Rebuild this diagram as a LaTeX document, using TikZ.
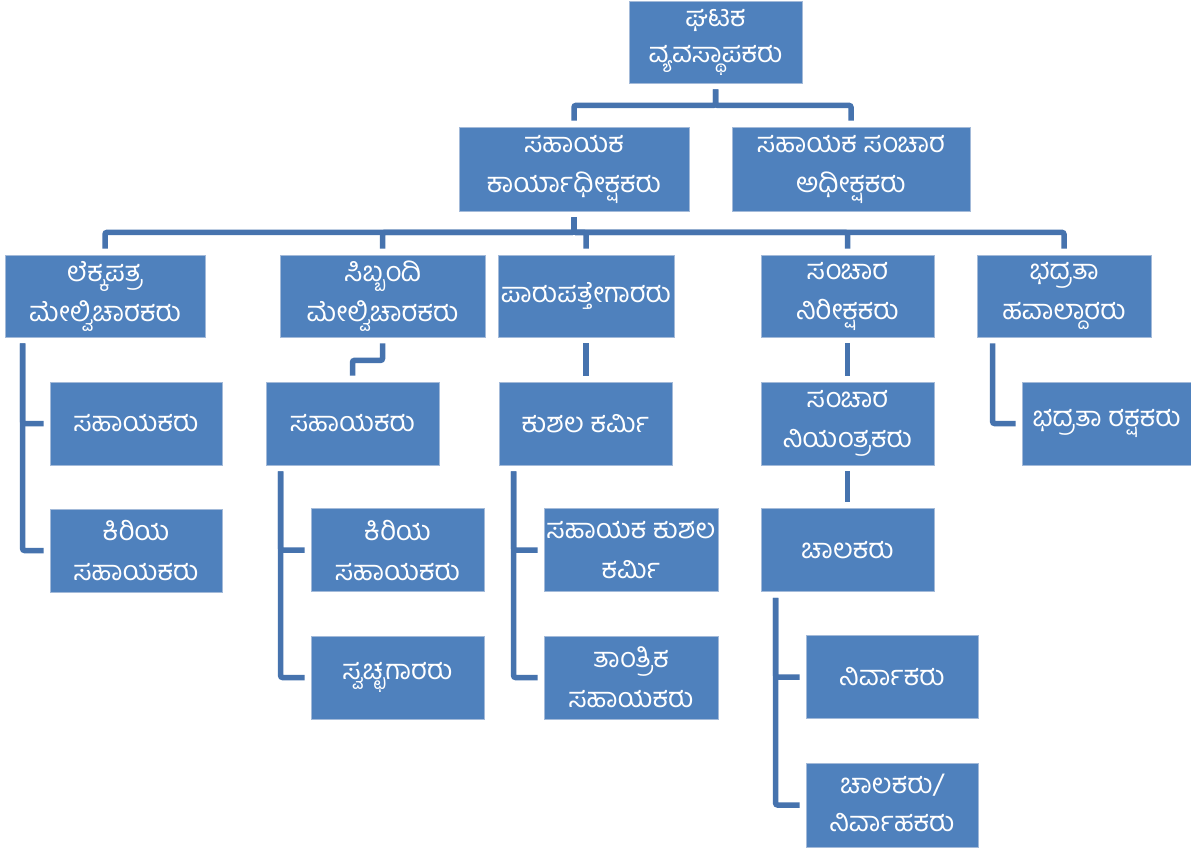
\documentclass[tikz,border=0pt]{standalone}
\usepackage{fontspec}
\newfontfamily\kn[Script=Kannada]{Hind Mysuru}
\definecolor{boxfill}{HTML}{4F81BD}
\definecolor{boxedge}{HTML}{A3BAD9}
\definecolor{linecol}{HTML}{4673AE}
\tikzset{
  unit/.style={draw=boxedge, line width=0.8pt, fill=boxfill, text=white,
    font=\kn\fontsize{27.5}{40}\selectfont, align=center, inner sep=0pt,
    minimum height=83pt},
  conn/.style={draw=linecol, line width=5.5pt, shorten <=6pt, shorten >=6pt,
    rounded corners=2pt}
}
\begin{document}
\begin{tikzpicture}[x=1pt,y=-1pt]
\useasboundingbox[fill=white] (0,0) rectangle (1191,849);
% level 1
\node[unit, minimum width=173pt, minimum height=82pt, font=\kn\fontsize{27.5}{36}\selectfont] (top) at (715.5,42) {ಘಟಕ\\ವ್ಯವಸ್ಥಾಪಕರು};
% level 2
\node[unit, minimum width=230pt, minimum height=84pt] (sak) at (574,169) {ಸಹಾಯಕ\\ಕಾರ್ಯಾಧೀಕ್ಷಕರು};
\node[unit, minimum width=238pt, minimum height=84pt] (ssa) at (851,169) {ಸಹಾಯಕ ಸಂಚಾರ\\ಅಧೀಕ್ಷಕರು};
% level 3
\node[unit, minimum width=200pt, minimum height=82pt] (lek) at (105,296) {ಲೆಕ್ಕಪತ್ರ\\ಮೇಲ್ವಿಚಾರಕರು};
\node[unit, minimum width=205pt, minimum height=82pt] (sib) at (382.5,296) {ಸಿಬ್ಬಂದಿ\\ಮೇಲ್ವಿಚಾರಕರು};
\node[unit, minimum width=176pt, minimum height=82pt] (par) at (586,296) {ಪಾರುಪತ್ತೇಗಾರರು};
\node[unit, minimum width=173pt, minimum height=82pt] (sni) at (847.5,296) {ಸಂಚಾರ\\ನಿರೀಕ್ಷಕರು};
\node[unit, minimum width=174pt, minimum height=82pt] (bha) at (1064,296) {ಭದ್ರತಾ\\ಹವಾಲ್ದಾರರು};
% level 4+
\node[unit, minimum width=172pt] (lek1) at (136,423.5) {ಸಹಾಯಕರು};
\node[unit, minimum width=172pt] (lek2) at (136,550.5) {ಕಿರಿಯ\\ಸಹಾಯಕರು};
\node[unit, minimum width=173pt] (sib1) at (352.5,423.5) {ಸಹಾಯಕರು};
\node[unit, minimum width=173pt] (sib2) at (397.5,550) {ಕಿರಿಯ\\ಸಹಾಯಕರು};
\node[unit, minimum width=173pt] (sib3) at (397.5,677.5) {ಸ್ವಚ್ಛಗಾರರು};
\node[unit, minimum width=173pt] (par1) at (585.5,423.5) {ಕುಶಲ ಕರ್ಮಿ};
\node[unit, minimum width=174pt] (par2) at (631,550) {ಸಹಾಯಕ ಕುಶಲ\\ಕರ್ಮಿ};
\node[unit, minimum width=174pt] (par3) at (631,677.5) {ತಾಂತ್ರಿಕ\\ಸಹಾಯಕರು};
\node[unit, minimum width=173pt] (sni1) at (847.5,423.5) {ಸಂಚಾರ\\ನಿಯಂತ್ರಕರು};
\node[unit, minimum width=173pt] (sni2) at (847.5,550) {ಚಾಲಕರು};
\node[unit, minimum width=172pt] (sni3) at (892,677) {ನಿರ್ವಾಕರು};
\node[unit, minimum width=172pt, minimum height=84pt, font=\kn\fontsize{27.5}{38}\selectfont] (sni4) at (892,805) {\raisebox{22pt}{\begin{tabular}{@{}c@{}}ಚಾಲಕರು/\\ನಿರ್ವಾಹಕರು\end{tabular}}};
\node[unit, minimum width=169pt] (bha1) at (1106.5,423.5) {ಭದ್ರತಾ ರಕ್ಷಕರು};
% connectors
\draw[conn] (top.south) -- ++(0,22) -| (sak.north);
\draw[conn] (top.south) -- ++(0,22) -| (ssa.north);
\foreach \t in {lek,sib,par,sni,bha}
  \draw[conn] (sak.south) -- ++(0,21) -| (\t.north);
\draw[conn] ([xshift=18pt]lek.south west) |- (lek1.west);
\draw[conn] ([xshift=18pt]lek.south west) |- (lek2.west);
\draw[conn] (sib.south) -- ++(0,23) -| (sib1.north);
\draw[conn] ([xshift=15pt]sib1.south west) |- (sib2.west);
\draw[conn] ([xshift=15pt]sib1.south west) |- (sib3.west);
\draw[conn] (par.south) -- (par.south |- par1.north);
\draw[conn] ([xshift=15pt]par1.south west) |- (par2.west);
\draw[conn] ([xshift=15pt]par1.south west) |- (par3.west);
\draw[conn] (sni.south) -- (sni1.north);
\draw[conn] (sni1.south) -- (sni2.north);
\draw[conn] ([xshift=15pt]sni2.south west) |- (sni3.west);
\draw[conn] ([xshift=15pt]sni2.south west) |- (sni4.west);
\draw[conn] ([xshift=16pt]bha.south west) |- (bha1.west);
\end{tikzpicture}
\end{document}
